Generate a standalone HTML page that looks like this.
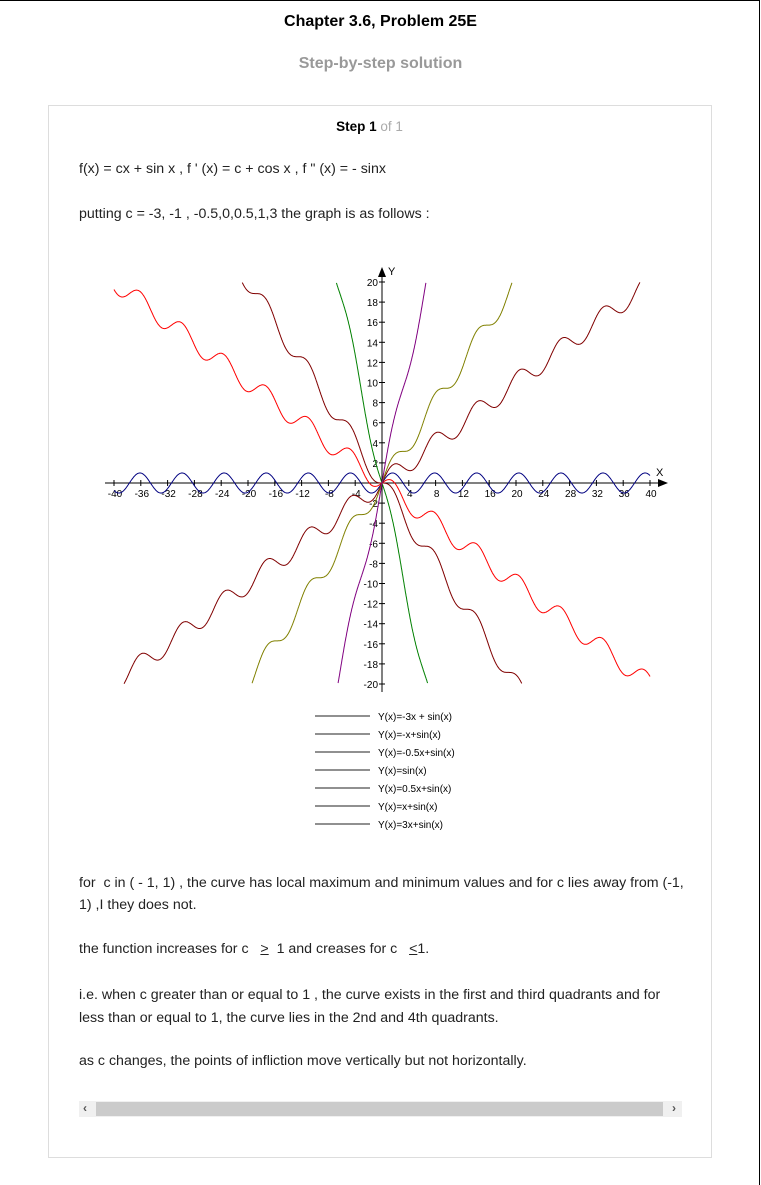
<!DOCTYPE html>
<html><head><meta charset="utf-8">
<style>
body{margin:0;width:761px;height:1184px;background:#fff;font-family:"Liberation Sans",Arial,sans-serif;position:relative;overflow:hidden}
#frame{position:absolute;left:0;top:0;width:759px;height:1184px;border-top:1px solid #000;border-right:1px solid #000}
.t{position:absolute;font-size:14.2px;color:#222;white-space:nowrap}
#card{position:absolute;left:48px;top:105px;width:662px;height:1051px;border:1px solid #ddd}
</style></head><body>
<div id="frame"></div>
<div style="position:absolute;left:0;width:761px;top:13px;text-align:center;font-weight:bold;font-size:16px;color:#000">Chapter 3.6, Problem 25E</div>
<div style="position:absolute;left:0;width:761px;top:55px;text-align:center;font-weight:bold;font-size:16px;color:#999">Step-by-step solution</div>
<div id="card"></div>
<div style="position:absolute;left:0;width:739px;top:119px;text-align:center;font-size:13.5px"><b>Step 1</b> <span style="color:#aaa">of 1</span></div>
<div class="t" style="left:79px;top:161px">f(x) = cx + sin x , f ' (x) = c + cos x , f " (x) = - sinx</div>
<div class="t" style="left:79px;top:206px">putting c = -3, -1 , -0.5,0,0.5,1,3 the graph is as follows :</div>
<svg id="chart" width="761" height="840" style="position:absolute;left:0;top:0" font-family="Liberation Sans, Arial, sans-serif" font-size="10"></svg>
<div class="t" style="left:79px;top:872px;line-height:22px;white-space:normal;width:613px">for &nbsp;c in ( - 1, 1) , the curve has local maximum and minimum values and for c lies away from (-1, 1) ,I they does not.</div>
<div class="t" style="left:79px;top:941px">the function increases for c &nbsp;&nbsp;<u>&gt;</u>&nbsp; 1 and creases for c &nbsp;&nbsp;<u>&lt;</u>1.</div>
<div class="t" style="left:79px;top:984px;line-height:23px;white-space:normal;width:598px">i.e. when c greater than or equal to 1 , the curve exists in the first and third quadrants and for less than or equal to 1, the curve lies in the 2nd and 4th quadrants.</div>
<div class="t" style="left:79px;top:1053px">as c changes, the points of infliction move vertically but not horizontally.</div>
<div style="position:absolute;left:79px;top:1101px;width:603px;height:16px;background:#f0f0f0">
<div style="position:absolute;left:4px;top:0;font-size:12px;color:#555;font-weight:bold">‹</div>
<div style="position:absolute;left:17px;top:1px;width:567px;height:14px;background:#cbcbcb"></div>
<div style="position:absolute;right:6px;top:0;font-size:12px;color:#555;font-weight:bold">›</div>
</div>
<script>
const cValues=[-3,-1,-0.5,0,0.5,1,3];
const seriesColors=["#008000","#800000","#ff0000","#000080","#800000","#808000","#800080"];
const legendLabels=["Y(x)=-3x + sin(x)","Y(x)=-x+sin(x)","Y(x)=-0.5x+sin(x)","Y(x)=sin(x)","Y(x)=0.5x+sin(x)","Y(x)=x+sin(x)","Y(x)=3x+sin(x)"];
const xTicks=[-40,-36,-32,-28,-24,-20,-16,-12,-8,-4,4,8,12,16,20,24,28,32,36,40];
const yTicks=[-20,-18,-16,-14,-12,-10,-8,-6,-4,-2,2,4,6,8,10,12,14,16,18,20];
const xDomain=[-40,40], yDomain=[-20,20];
const X0=382,Y0=483,SX=6.7,SY=10.05;
const sx=v=>X0+v*SX, sy=v=>Y0-v*SY;
const svg=document.getElementById('chart');
const NS='http://www.w3.org/2000/svg';
function mk(t,a){const e=document.createElementNS(NS,t);for(const k in a)e.setAttribute(k,a[k]);svg.appendChild(e);return e;}
let e;
e=mk('line',{x1:105,y1:Y0,x2:660,y2:Y0,stroke:'#000'});


e=mk('polygon',{points:`${668},${Y0} 658,${Y0-4} 658,${Y0+4}`,fill:'#000'});


e=mk('line',{x1:X0,y1:276,x2:X0,y2:692,stroke:'#000'});


e=mk('polygon',{points:`${X0},267 ${X0-4},277 ${X0+4},277`,fill:'#000'});


e=mk('text',{x:656,y:476,'font-size':11});e.textContent='X';


e=mk('text',{x:388,y:275,'font-size':11});e.textContent='Y';


xTicks.forEach(v=>{
 e=mk('line',{x1:sx(v),y1:Y0-3,x2:sx(v),y2:Y0+3,stroke:'#000'});
 
 
 e=mk('text',{x:sx(v)+1,y:Y0+14,'text-anchor':'middle'});e.textContent=v;
 
 
});
yTicks.forEach(v=>{
 e=mk('line',{x1:X0-3,y1:sy(v),x2:X0+3,y2:sy(v),stroke:'#000'});
 
 
 e=mk('text',{x:X0-4,y:sy(v)+4,'text-anchor':'end'});e.textContent=v;
 
 
});
cValues.forEach((c,i)=>{
 let d='',pen=false;
 for(let x=xDomain[0];x<=xDomain[1]+1e-9;x+=0.05){
  const y=c*x+Math.sin(x);
  if(y<yDomain[0]||y>yDomain[1]){pen=false;continue;}
  d+=(pen?'L':'M')+sx(x).toFixed(1)+','+sy(y).toFixed(1);pen=true;
 }
 e=mk('path',{d:d,fill:'none',stroke:seriesColors[i],'stroke-width':1});
 
 
 const ly=716+i*18;
 e=mk('line',{x1:315,y1:ly,x2:370,y2:ly,stroke:'#222'});
 
 
 e=mk('text',{x:378,y:ly+4});e.textContent=legendLabels[i];
 
 
});
</script>
</body></html>
